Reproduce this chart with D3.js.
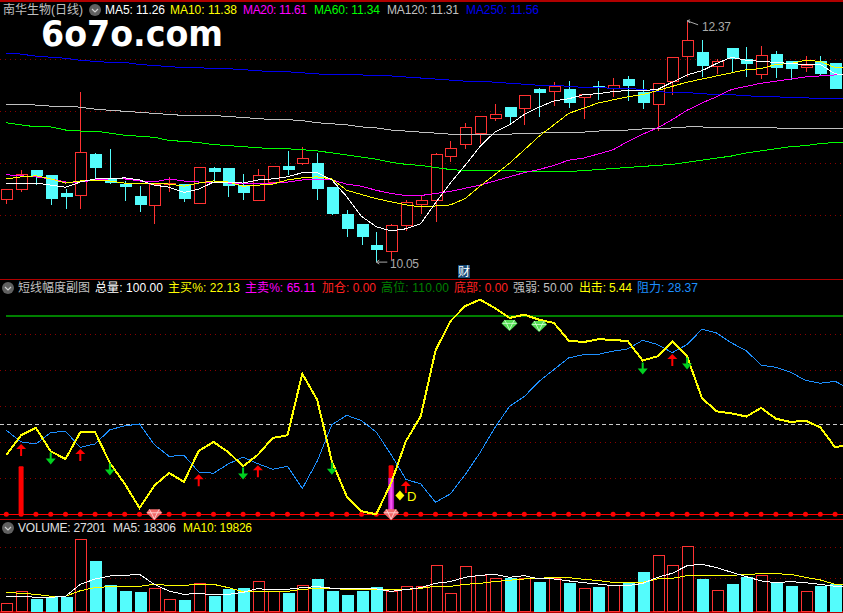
<!DOCTYPE html>
<html>
<head>
<meta charset="utf-8">
<script src="https://cdn.jsdelivr.net/npm/d3@7"></script>
<style>
  body { margin: 0; background: #000; overflow: hidden; }
  svg { display: block; }
  text { font-family: "Liberation Sans", "Noto Sans CJK SC", sans-serif; font-size: 12px; }
</style>
</head>
<body>
<svg id="chart"></svg>
<script>
// candles, one entry per trading day
const opens = [10.65,10.75,10.93,10.88,10.71,10.69,11.08,10.84,10.80,10.68,10.59,10.80,10.80,10.61,10.95,10.95,10.79,10.64,10.82,
  10.97,11.00,11.00,10.77,10.51,10.41,10.21,10.15,10.40,10.60,10.64,11.07,11.18,11.29,11.43,11.54,11.53,11.71,11.69,
  11.71,11.63,11.74,11.72,11.81,11.68,11.57,11.79,12.03,12.07,11.93,12.10,12.00,11.85,12.05,11.98,11.92,11.98,11.96];
const closes = [10.75,10.89,10.88,10.66,10.68,11.10,10.96,10.82,10.78,10.60,10.80,10.81,10.66,10.96,10.92,10.79,10.72,10.88,10.97,
  10.94,11.05,10.76,10.52,10.37,10.30,10.17,10.40,10.62,10.64,11.08,11.14,11.34,11.45,11.47,11.45,11.65,11.68,11.74,
  11.58,11.66,11.73,11.75,11.75,11.58,11.77,12.02,12.18,11.94,11.98,12.01,11.96,12.04,11.92,11.91,11.94,11.86,11.72];
const highs = [10.75,10.94,10.93,10.88,10.75,11.69,11.10,11.14,10.83,10.78,10.80,10.87,10.80,10.96,10.96,10.95,10.90,10.95,10.97,
  11.12,11.16,11.10,10.77,10.55,10.41,10.34,10.42,10.65,10.69,11.10,11.21,11.39,11.45,11.57,11.54,11.65,11.72,11.78,
  11.79,11.66,11.79,11.82,11.84,11.80,11.77,12.02,12.37,12.19,12.00,12.10,12.12,12.13,12.08,11.98,12.03,12.03,11.96];
const lows = [10.61,10.72,10.79,10.60,10.56,10.56,10.84,10.80,10.64,10.53,10.42,10.72,10.63,10.61,10.82,10.68,10.65,10.64,10.80,
  10.89,10.98,10.65,10.50,10.29,10.21,10.05,10.07,10.35,10.51,10.44,11.01,11.14,11.19,11.41,11.37,11.37,11.45,11.55,
  11.53,11.43,11.61,11.64,11.60,11.52,11.31,11.66,11.83,11.83,11.86,11.87,11.83,11.81,11.82,11.80,11.88,11.85,11.71];

// moving averages on price (the last entry of every line sits just past the window edge)
const ma5 = [10.81,10.81,10.81,10.79,10.77,10.82,10.85,10.85,10.86,10.84,10.79,10.77,10.72,10.75,10.82,10.82,10.81,10.84,10.85,
  10.87,10.91,10.91,10.84,10.68,10.49,10.39,10.35,10.37,10.42,10.62,10.81,10.98,11.16,11.30,11.37,11.47,11.54,11.60,
  11.62,11.66,11.67,11.69,11.70,11.70,11.71,11.78,11.85,11.89,11.96,12.02,11.99,11.98,11.97,11.96,11.95,11.95,11.86,11.85];
const ma10 = [10.85,10.87,10.88,10.85,10.81,10.83,10.83,10.83,10.81,10.81,10.81,10.80,10.78,10.81,10.83,10.82,10.78,10.79,10.80,
  10.84,10.86,10.87,10.85,10.74,10.70,10.66,10.63,10.60,10.58,10.59,10.60,10.66,10.78,10.89,11.00,11.13,11.26,11.37,
  11.48,11.53,11.58,11.61,11.64,11.66,11.70,11.74,11.78,11.81,11.84,11.87,11.90,11.91,11.95,11.96,11.99,11.98,11.92,11.92];
const ma20 = [10.89,10.88,10.87,10.85,10.82,10.82,10.84,10.85,10.85,10.83,10.82,10.85,10.83,10.82,10.82,10.81,10.81,10.81,10.81,
  10.82,10.84,10.84,10.84,10.80,10.78,10.74,10.71,10.69,10.69,10.71,10.73,10.76,10.79,10.83,10.87,10.91,10.94,10.98,
  11.03,11.05,11.09,11.13,11.21,11.28,11.34,11.42,11.51,11.58,11.64,11.71,11.74,11.77,11.79,11.81,11.83,11.84,11.85,11.85];
const ma60 = [11.39,11.37,11.35,11.35,11.32,11.31,11.31,11.29,11.27,11.26,11.25,11.22,11.21,11.20,11.18,11.17,11.16,11.15,11.14,
  11.14,11.13,11.12,11.10,11.08,11.06,11.04,11.01,10.99,10.98,10.96,10.94,10.93,10.93,10.93,10.93,10.92,10.92,10.92,
  10.92,10.93,10.94,10.95,10.96,10.97,10.98,10.99,11.01,11.03,11.05,11.07,11.10,11.12,11.14,11.16,11.17,11.19,11.20,11.20];
const ma120 = [11.57,11.57,11.56,11.55,11.55,11.54,11.52,11.51,11.50,11.49,11.48,11.47,11.46,11.46,11.46,11.45,11.44,11.43,11.42,
  11.42,11.41,11.39,11.38,11.37,11.35,11.34,11.32,11.31,11.30,11.29,11.28,11.28,11.28,11.28,11.28,11.29,11.29,11.30,
  11.30,11.30,11.31,11.32,11.32,11.33,11.33,11.34,11.35,11.35,11.34,11.34,11.34,11.34,11.34,11.33,11.33,11.33,11.33,11.33];
const ma250 = [12.06,12.05,12.03,12.02,12.01,11.99,11.98,11.97,11.97,11.95,11.94,11.93,11.92,11.92,11.91,11.91,11.90,11.89,11.88,
  11.88,11.87,11.86,11.85,11.85,11.85,11.84,11.84,11.83,11.82,11.81,11.80,11.79,11.79,11.78,11.77,11.76,11.75,11.75,
  11.74,11.73,11.73,11.72,11.72,11.71,11.69,11.68,11.68,11.67,11.66,11.66,11.65,11.64,11.64,11.63,11.63,11.62,11.62,11.62];

// indicator panel
const attack = [33.0,43.9,48.0,35.0,30.7,45.6,45.6,28.5,17.0,3.5,15.9,23.0,18.0,35.2,40.2,34.6,26.7,33.1,42.4,
  43.9,78.1,63.7,29.4,10.0,1.7,0,17.4,40.6,54.4,90.9,107.2,115.6,119.3,114.6,109.1,110.9,108.1,106.3,
  96.5,95.7,97.2,97.0,96.1,85.4,87.8,95.9,87.8,64.6,57.2,56.1,54.3,59.1,53.1,51.3,52.0,48.3,37.2,39.1];
const resist = [46.7,40.2,39.1,45.4,46.1,37.2,39.1,47.0,49.1,50.2,38.7,32.2,32.8,23.5,22.8,28.0,31.7,28.1,25.0,
  26.7,14.3,29.4,49.8,55.0,52.0,45.7,33.1,19.4,16.9,6.7,11.3,22.0,34.1,48.0,60.0,65.4,73.9,80.4,
  86.9,88.7,88.9,90.6,91.9,96.7,94.3,89.8,94.3,102.8,100.7,95.2,90.9,82.8,81.7,78.9,74.4,72.8,73.9,69.6];
const redBars = [{i: 1, v: 26.7}, {i: 26, v: 27.2}];
const magentaBars = [{i: 26, v: 20.2}];
const upArrows = [{i: 1, v: 39.1}, {i: 5, v: 36.3}, {i: 13, v: 22.2}, {i: 17, v: 27.2}, {i: 27, v: 18.5}, {i: 45, v: 89.1}];
const downArrows = [{i: 3, v: 27.6}, {i: 7, v: 21.5}, {i: 16, v: 19.3}, {i: 22, v: 22.0}, {i: 43, v: 77.6}, {i: 46, v: 80.4}];
const pinkGems = [{i: 10, v: 2.8}, {i: 26, v: 2.8}];
const greenGems = [{i: 34, v: 108.0}, {i: 36, v: 107.4}];

// volume panel
const volumes = [4700,12000,7300,8400,8000,43900,30000,15300,12200,11600,13900,7100,6700,16900,8600,12900,13500,18200,12000,
  11000,15700,19000,12200,9200,12200,14100,12200,14700,15100,27900,10600,27300,21800,20000,19600,20000,17700,19600,
  17100,13900,14100,15500,17100,23300,34100,27900,39600,19000,12600,16500,20200,21800,17300,14700,12000,14700,16300];
const volMa5 = [8600,9000,8400,8400,9000,16300,19600,21400,21800,22400,16300,12200,10200,10800,9800,10200,11400,13700,12900,
  13300,14300,14900,13900,13500,13500,13500,12000,13100,14300,16900,18000,20600,21800,22400,20600,21600,19600,19600,
  18400,17300,16500,15500,15500,16900,20600,23100,27700,28600,26500,23700,21000,18400,17300,18000,17300,16300,15100,15100];
const volMa10 = [11400,10800,10200,9000,9000,12400,14300,14900,15100,15100,16300,15700,15700,16300,16300,14300,11800,12000,12000,
  12000,13300,13700,13900,13100,13100,13100,13100,13100,13900,15100,15100,16300,16900,18000,18800,19600,20000,20600,
  20400,19400,18600,17500,17300,17500,19600,20000,21600,21800,21800,21800,22400,22800,22800,22400,20600,19000,16300,16300];

// tick values and labels
const priceGrid = [10.5, 11, 11.5, 12];
const oscGrid = [20, 40, 60, 80, 100];
const volGrid = [20000, 39000];
const priceLabels = ["南华生物(日线)", "MA5: 11.26", "MA10: 11.38", "MA20: 11.61", "MA60: 11.34", "MA120: 11.31", "MA250: 11.56"];
const oscLabels = ["短线幅度副图", "总量: 100.00", "主买%: 22.13", "主卖%: 65.11", "加仓: 0.00", "高位: 110.00", "底部: 0.00", "强弱: 50.00", "出击: 5.44", "阻力: 28.37"];
const volLabels = ["VOLUME: 27201", "MA5: 18306", "MA10: 19826"];

const width = 843, height = 613;
const red = "#ff3232", cyan = "#54fcfc", gridRed = "#8c0000", border = "#b00000";

const svg = d3.select("#chart").attr("width", width).attr("height", height);
svg.append("rect").attr("width", width).attr("height", height).attr("fill", "#000");

const x = d3.scaleLinear().domain([0, 56]).range([6.3, 835.1]);
const yPrice = d3.scaleLinear().domain([10, 12.5]).range([267.3, 7.3]);
const yOsc = d3.scaleLinear().domain([0, 110]).range([514.3, 316.3]);
const yVol = d3.scaleLinear().domain([0, 40000]).range([611, 545.6]);

const bodyW = 11;
const crisp = sel => sel.attr("shape-rendering", "crispEdges");

function gridLines(ticks, scale) {
  crisp(svg.append("g").selectAll("line").data(ticks).join("line"))
    .attr("x1", 0).attr("x2", width)
    .attr("y1", d => scale(d)).attr("y2", d => scale(d))
    .attr("stroke", gridRed).attr("stroke-dasharray", "1 4");
}
gridLines(priceGrid, yPrice);
gridLines(oscGrid, yOsc);
gridLines(volGrid, yVol);

// panel borders
crisp(svg.append("g").selectAll("line").data([0.5, 279.5, 519.5, 612]).join("line"))
  .attr("x1", 0).attr("x2", width).attr("y1", d => d).attr("y2", d => d)
  .attr("stroke", border).attr("stroke-width", d => d == 0.5 || d == 612 ? 2 : 1);

// candles
const candle = svg.append("g").selectAll("g").data(d3.range(opens.length)).join("g");
crisp(candle.append("line"))
  .attr("x1", i => Math.round(x(i)) + 0.5).attr("x2", i => Math.round(x(i)) + 0.5)
  .attr("y1", i => yPrice(highs[i])).attr("y2", i => yPrice(lows[i]))
  .attr("stroke", i => closes[i] >= opens[i] ? red : cyan);
crisp(candle.append("rect"))
  .attr("x", i => Math.round(x(i)) - 5).attr("width", bodyW)
  .attr("y", i => yPrice(Math.max(opens[i], closes[i])))
  .attr("height", i => Math.abs(yPrice(opens[i]) - yPrice(closes[i])))
  .attr("fill", i => closes[i] >= opens[i] ? "#000" : cyan)
  .attr("stroke", i => closes[i] >= opens[i] ? red : cyan);

function drawLine(values, scale, color, w) {
  const line = d3.line().x((d, i) => x(i)).y(d => scale(d));
  crisp(svg.append("path").datum(values))
    .attr("d", line).attr("fill", "none").attr("stroke", color).attr("stroke-width", w || 1);
}
drawLine(ma250, yPrice, "#0000f0");
drawLine(ma120, yPrice, "#c0c0c0");
drawLine(ma60, yPrice, "#00ff00");
drawLine(ma20, yPrice, "#ff00ff");
drawLine(ma10, yPrice, "#ffff00");
drawLine(ma5, yPrice, "#ffffff");

// extreme price notes
const noteColor = "#aaaaaa";
svg.append("path").attr("fill", "none").attr("stroke", noteColor)
  .attr("d", `M${x(46)},${yPrice(12.37)}l3,-1M${x(46)},${yPrice(12.37)}l3,2M${x(46)},${yPrice(12.37)}l11,4`);
svg.append("text").attr("x", 702).attr("y", 31).attr("fill", noteColor).attr("font-size", 13).attr("textLength", 29).text("12.37");
svg.append("path").attr("fill", "none").attr("stroke", noteColor)
  .attr("d", `M${x(25)},${yPrice(10.05)}l3,-2M${x(25)},${yPrice(10.05)}l3,2M${x(25)},${yPrice(10.05)}h11`);
svg.append("text").attr("x", 390).attr("y", 268).attr("fill", noteColor).attr("font-size", 13).attr("textLength", 29).text("10.05");
svg.append("rect").attr("x", 458).attr("y", 265).attr("width", 12).attr("height", 13).attr("fill", "#174a78");
svg.append("text").attr("x", 458).attr("y", 276).attr("fill", "#fff").text("财");

// indicator panel
crisp(svg.append("line"))
  .attr("x1", x(0)).attr("x2", width).attr("y1", yOsc(110)).attr("y2", yOsc(110))
  .attr("stroke", "#008000").attr("stroke-width", 2);
crisp(svg.append("line"))
  .attr("x1", 0).attr("x2", width).attr("y1", yOsc(50)).attr("y2", yOsc(50))
  .attr("stroke", "#cccccc").attr("stroke-dasharray", "4 3");
crisp(svg.append("line"))
  .attr("x1", 0).attr("x2", width).attr("y1", yOsc(0)).attr("y2", yOsc(0))
  .attr("stroke", "#ff0000");
svg.append("g").selectAll("circle").data(d3.range(opens.length)).join("circle")
  .attr("cx", i => x(i)).attr("cy", yOsc(0)).attr("r", 2.5).attr("fill", "#ff0000");

const grad = svg.append("defs").append("linearGradient").attr("id", "magentaGrad");
grad.append("stop").attr("offset", "0").attr("stop-color", "#a000a0");
grad.append("stop").attr("offset", "0.5").attr("stop-color", "#ff60ff");
grad.append("stop").attr("offset", "1").attr("stop-color", "#a000a0");

svg.append("g").selectAll("rect").data(redBars).join("rect")
  .attr("x", d => x(d.i) - 2.5).attr("width", 5)
  .attr("y", d => yOsc(d.v)).attr("height", d => yOsc(0) - yOsc(d.v)).attr("rx", 1)
  .attr("fill", "#ff0000");
svg.append("g").selectAll("rect").data(magentaBars).join("rect")
  .attr("x", d => x(d.i) - 3).attr("width", 6)
  .attr("y", d => yOsc(d.v)).attr("height", d => yOsc(0) - yOsc(d.v))
  .attr("fill", "url(#magentaGrad)");

drawLine(resist, yOsc, "#1e90ff");
drawLine(attack, yOsc, "#ffff00", 2);

// gems sit on a flat top, pointing down
function gems(data, fill, light) {
  const g = svg.append("g").selectAll("g").data(data).join("g")
    .attr("transform", d => `translate(${x(d.i)},${yOsc(d.v)})`);
  g.append("path").attr("d", "M-5,0H5L8,3.5L0,11L-8,3.5Z").attr("fill", fill);
  g.append("path").attr("d", "M-7,3.5H7M-3,3.5L0,10L3,3.5M-5,0L-3,3.5M5,0L3,3.5")
    .attr("fill", "none").attr("stroke", light).attr("stroke-width", 0.8);
}
gems(pinkGems, "#f06a6a", "#ffe0e0");
gems(greenGems, "#55dd55", "#d8ffd8");

svg.append("g").selectAll("path").data(upArrows).join("path")
  .attr("transform", d => `translate(${x(d.i)},${yOsc(d.v)})`)
  .attr("d", "M0,0L5,5H1V12H-1V5H-5Z").attr("fill", "#ff0000");
svg.append("g").selectAll("path").data(downArrows).join("path")
  .attr("transform", d => `translate(${x(d.i)},${yOsc(d.v)})`)
  .attr("d", "M0,0L-5,-6H-1V-12H1V-6H5Z").attr("fill", "#00d020");

svg.append("path").attr("d", "M0,-5L4.5,0L0,5L-4.5,0Z")
  .attr("transform", `translate(${x(27) - 6},${yOsc(10.4)})`).attr("fill", "#ffff00");
svg.append("text").attr("x", x(27) + 1).attr("y", yOsc(10.4) + 5).attr("fill", "#ffff00").style("font-size", "13px").text("D");

// volume panel
const volBar = svg.append("g").selectAll("rect").data(d3.range(volumes.length)).join("rect")
  .attr("x", i => Math.round(x(i)) - 5).attr("width", bodyW)
  .attr("y", i => yVol(volumes[i])).attr("height", i => yVol(0) - yVol(volumes[i]))
  .attr("fill", i => closes[i] >= opens[i] ? "#000" : cyan)
  .attr("stroke", i => closes[i] >= opens[i] ? red : cyan);
crisp(volBar);
drawLine(volMa10, yVol, "#ffff00");
drawLine(volMa5, yVol, "#ffffff");

// watermark
svg.append("text").attr("x", 41).attr("y", 46)
  .style("font-family", "'DejaVu Sans', sans-serif").style("font-size", "36px").style("font-weight", 700)
  .attr("textLength", 182).attr("lengthAdjust", "spacingAndGlyphs").attr("fill", "#fff").text("6o7o.com");

// panel title rows
function labelRow(labels, lefts, widths, colors, y) {
  svg.append("g").selectAll("text").data(labels).join("text")
    .attr("x", (d, i) => lefts[i]).attr("y", y)
    .attr("textLength", (d, i) => widths[i])
    .attr("fill", (d, i) => colors[i]).text(d => d);
}
function chevron(cx, cy) {
  svg.append("circle").attr("cx", cx).attr("cy", cy).attr("r", 6).attr("fill", "#606060");
  svg.append("path").attr("d", `M${cx - 3},${cy - 1}L${cx},${cy + 2}L${cx + 3},${cy - 1}`)
    .attr("fill", "none").attr("stroke", "#d0d0d0").attr("stroke-width", 1.2);
}
chevron(95, 10);
labelRow(priceLabels,
  [3, 105, 170, 243, 314, 387, 466], [80, 60, 67, 64, 66, 72, 73],
  ["#c0c0c0", "#ffffff", "#ffff00", "#ff00ff", "#00ff00", "#c0c0c0", "#0000f0"], 14);
chevron(8, 288);
labelRow(oscLabels,
  [18, 95, 168, 245, 322, 381, 454, 513, 579, 637], [72, 68, 72, 71, 54, 68, 54, 60, 53, 61],
  ["#c0c0c0", "#ffffff", "#ffff00", "#ff00ff", "#ff2020", "#008000", "#ff2020", "#c0c0c0", "#ffff00", "#1e90ff"], 292);
chevron(8, 528);
labelRow(volLabels, [18, 113, 183], [88, 63, 69], ["#e0e0e0", "#e0e0e0", "#ffff00"], 532);
</script>
</body>
</html>
